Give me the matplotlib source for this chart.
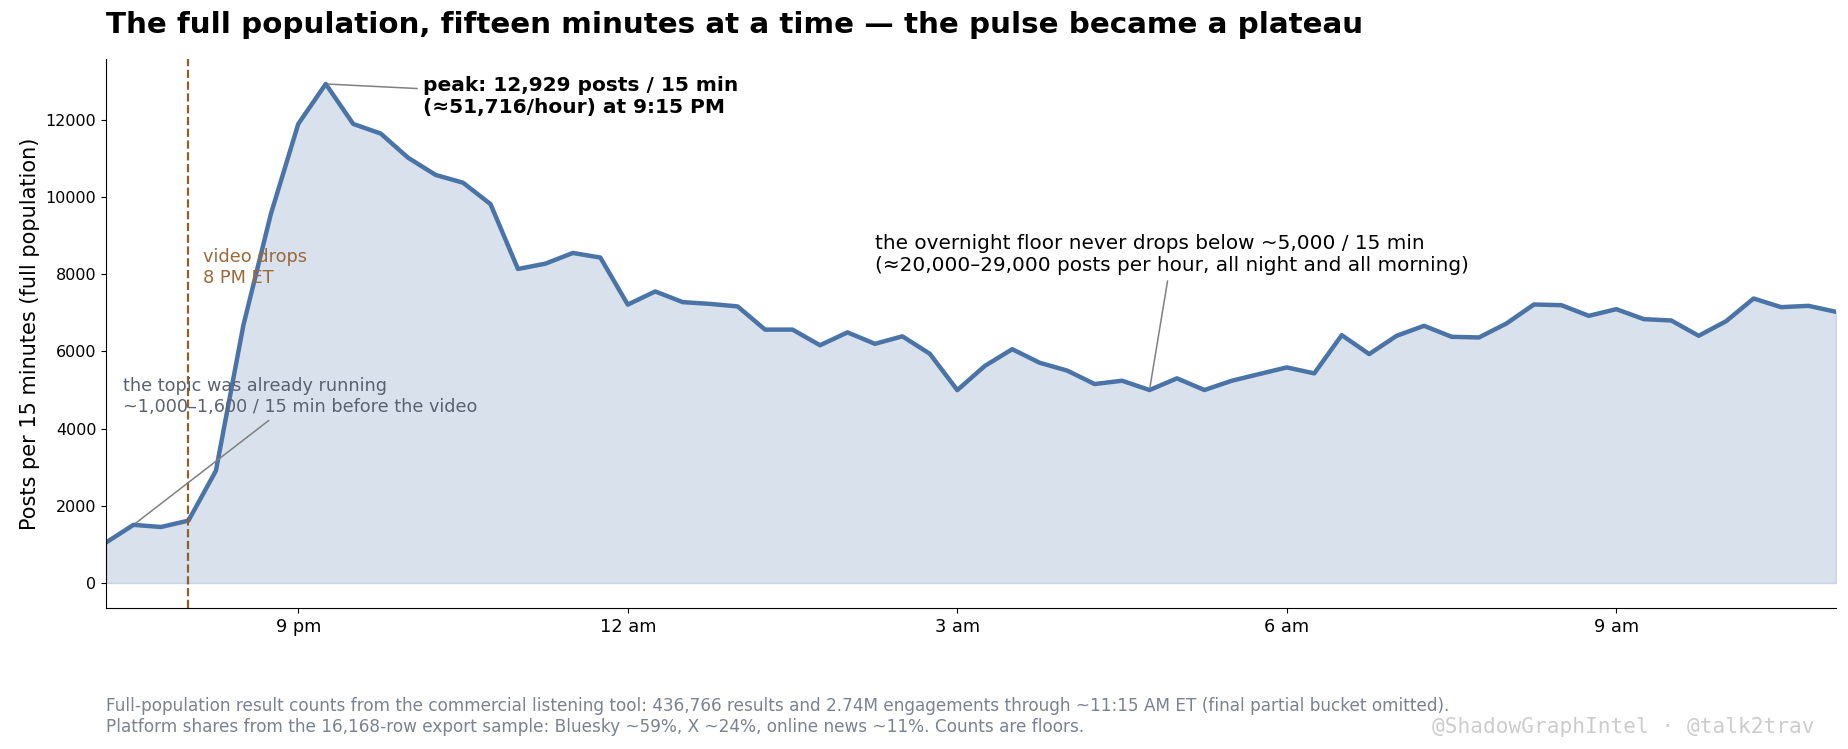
import numpy as np
import pandas as pd
import matplotlib
matplotlib.use("Agg")
import matplotlib.pyplot as plt
import matplotlib.dates as mdates

# 15-minute buckets, 7:15 PM -> 11:00 AM ET
start = "2025-01-01 19:15"
counts = [1050, 1507, 1451, 1617, 2909, 6676, 9557, 11894, 12929, 11894,
          11645, 11017, 10573, 10371, 9817, 8136, 8274, 8551, 8432, 7213,
          7554, 7277, 7231, 7166, 6565, 6565, 6160, 6493, 6197, 6391,
          5939, 4997, 5623, 6058, 5706, 5504, 5155, 5241, 5000, 5302,
          5000, 5241, 5414, 5586, 5431, 6422, 5931, 6405, 6664, 6379,
          6362, 6724, 7216, 7198, 6922, 7095, 6836, 6802, 6405, 6784,
          7371, 7147, 7181, 7026]

tick_times = ["2025-01-01 21:00", "2025-01-02 00:00", "2025-01-02 03:00",
              "2025-01-02 06:00", "2025-01-02 09:00"]
tick_labels = ["9 pm", "12 am", "3 am", "6 am", "9 am"]

video_time = "2025-01-01 20:00"
peak_time = "2025-01-01 21:15"
floor_time = "2025-01-02 04:45"
pre_time = "2025-01-01 19:30"

times = pd.date_range(start=start, periods=len(counts), freq="15min")
counts = np.array(counts)

LINE = "#4a74a8"
BROWN = "#925f2c"

fig = plt.figure(figsize=(18.48, 7.49), dpi=100)
ax = fig.add_axes([0.0574, 0.1883, 0.9361, 0.7329])

ax.fill_between(times, 0, counts, color=LINE, alpha=0.21, lw=1)
ax.plot(times, counts, color=LINE, lw=3.2)
ax.set_xlim(times[0], times[-1])

ax.axvline(pd.Timestamp(video_time), color=BROWN, ls="--", lw=1.6)
ax.text(pd.Timestamp("2025-01-01 20:08"), 8680, "video drops\n8 PM ET",
        color="#9a6a3a", fontsize=12.8, va="top", ha="left")

ax.annotate("peak: 12,929 posts / 15 min\n(\u224851,716/hour) at 9:15 PM",
            xy=(pd.Timestamp(peak_time), counts.max()),
            xytext=(pd.Timestamp("2025-01-01 22:08"), 12600),
            fontsize=14.5, fontweight="bold", va="center", ha="left",
            arrowprops=dict(arrowstyle="-", color="#808080", lw=1.1))

ax.annotate("the overnight floor never drops below ~5,000 / 15 min\n"
            "(\u224820,000\u201329,000 posts per hour, all night and all morning)",
            xy=(pd.Timestamp(floor_time), 5000),
            xytext=(pd.Timestamp("2025-01-02 02:15"), 8500),
            fontsize=14.4, va="center", ha="left",
            arrowprops=dict(arrowstyle="-", color="#808080", lw=1.1))

ax.annotate("the topic was already running\n~1,000\u20131,600 / 15 min before the video",
            xy=(pd.Timestamp(pre_time), 1507),
            xytext=(pd.Timestamp("2025-01-01 19:24"), 4830),
            fontsize=12.7, color="#5a6270", va="center", ha="left",
            arrowprops=dict(arrowstyle="-", color="#808080", lw=1.1))

ax.set_xticks([mdates.date2num(pd.Timestamp(t)) for t in tick_times])
ax.set_xticklabels(tick_labels, fontsize=12.8)
ax.set_yticks(range(0, 12001, 2000))
ax.tick_params(axis="y", labelsize=11.5)
ax.set_ylabel("Posts per 15 minutes (full population)", fontsize=15)
ax.spines["top"].set_visible(False)
ax.spines["right"].set_visible(False)

fig.text(0.0574, 0.966, "The full population, fifteen minutes at a time \u2014 the pulse became a plateau",
         fontsize=21.2, fontweight="bold", va="center", ha="left")

fig.text(0.0574, 0.043,
         "Full-population result counts from the commercial listening tool: 436,766 results and 2.74M engagements "
         "through ~11:15 AM ET (final partial bucket omitted).\n"
         "Platform shares from the 16,168-row export sample: Bluesky ~59%, X ~24%, online news ~11%. Counts are floors.",
         fontsize=12.2, color="#7a8290", va="center", ha="left")
fig.text(0.982, 0.030, "@ShadowGraphIntel \u00b7 @talk2trav", family="DejaVu Sans Mono",
         fontsize=15.2, color="#cccccc", ha="right", va="center")

fig.savefig("out.png", dpi=100)
